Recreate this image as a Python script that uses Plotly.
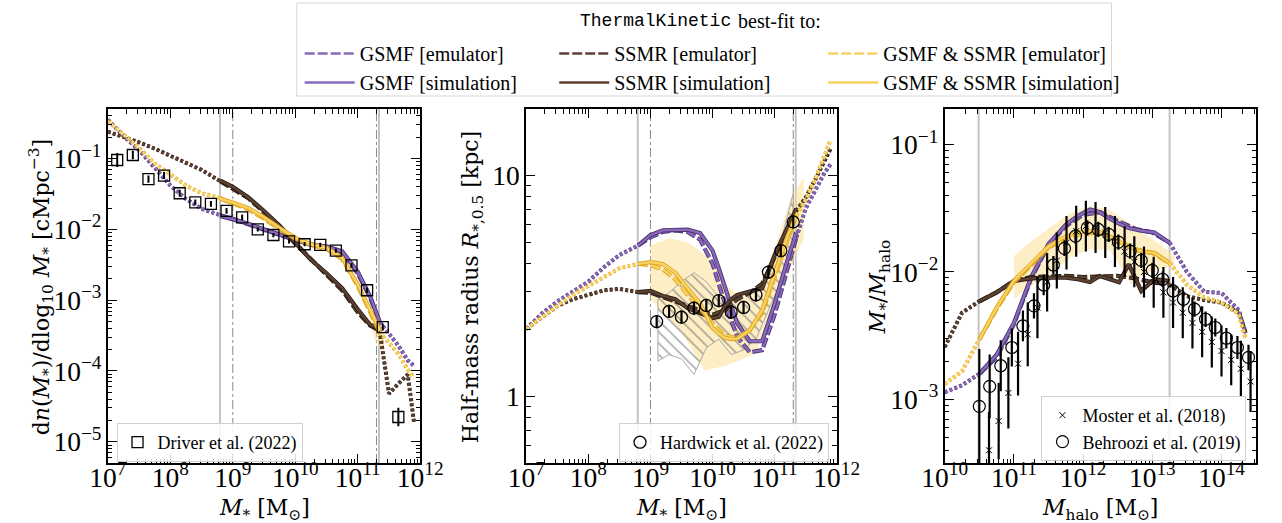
import plotly.graph_objects as go

W, H = 1282, 523
FONT = "Liberation Serif"
TFONT = "DejaVu Serif"

# ---------------- colours ----------------
PURPLE, PURPLE_EDGE = "#8a69bd", "#4a3472"
BROWN, BROWN_EDGE = "#5c4233", "#2c1d15"
GOLD, GOLD_EDGE = "#f8d262", "#e0a722"

# ---------------- panel 1 : GSMF ----------------
gsmf_x_emu = [7.0, 7.25, 7.5, 7.75, 8.0, 8.25, 8.5, 8.8, 9.0, 9.25, 9.5, 9.75, 10.0, 10.25, 10.5, 10.75, 11.0, 11.2, 11.35, 11.5, 11.65, 11.8, 11.9]
gsmf_purple_emu = [-0.45, -0.68, -0.88, -1.12, -1.38, -1.57, -1.71, -1.80, -1.85, -1.93, -2.01, -2.08, -2.15, -2.21, -2.25, -2.33, -2.62, -2.97, -3.31, -3.48, -3.64, -3.85, -3.93]
gsmf_gold_emu = [-0.47, -0.66, -0.85, -1.07, -1.23, -1.38, -1.49, -1.56, -1.63, -1.72, -1.85, -2.00, -2.13, -2.22, -2.28, -2.42, -2.80, -3.17, -3.45, -3.60, -3.76, -3.98, -4.10]
gsmf_brown_emu = [-0.62, -0.69, -0.77, -0.86, -0.96, -1.06, -1.16, -1.32, -1.42, -1.56, -1.76, -1.97, -2.20, -2.42, -2.65, -2.86, -3.17, -3.36, -3.43, -4.32, -4.18, -4.05, -4.72]
gsmf_x_sim = [8.8, 9.0, 9.25, 9.5, 9.75, 10.0, 10.25, 10.5, 10.75, 11.0, 11.2, 11.35]
gsmf_purple_sim = [-1.81, -1.86, -1.92, -2.00, -2.07, -2.14, -2.22, -2.24, -2.31, -2.60, -2.95, -3.30]
gsmf_gold_sim = [-1.57, -1.62, -1.70, -1.83, -1.98, -2.12, -2.21, -2.26, -2.40, -2.78, -3.14, -3.42]
gsmf_brown_sim = [-1.31, -1.40, -1.55, -1.74, -1.95, -2.19, -2.43, -2.62, -2.83, -3.13, -3.35, -3.40]
gsmf_band_x = [11.2, 11.3, 11.42, 11.42, 11.3, 11.2]
gsmf_band_y = [-3.1, -3.28, -3.42, -3.72, -3.62, -3.35]

driver_logm = [7.15, 7.40, 7.65, 7.90, 8.15, 8.40, 8.65, 8.90, 9.15, 9.40, 9.65, 9.90, 10.15, 10.40, 10.65, 10.90, 11.15, 11.40, 11.65]
driver_logphi = [-1.02, -0.95, -1.29, -1.24, -1.49, -1.62, -1.64, -1.74, -1.83, -2.00, -2.08, -2.17, -2.21, -2.22, -2.30, -2.51, -2.86, -3.38, -4.65]
driver_err = [0.10, 0.06, 0.05, 0.05, 0.05, 0.04, 0.04, 0.04, 0.04, 0.03, 0.03, 0.03, 0.03, 0.03, 0.03, 0.03, 0.04, 0.05, 0.13]

# ---------------- panel 2 : size-mass ----------------
ssmr_x_emu = [7.0, 7.25, 7.5, 7.75, 8.0, 8.25, 8.5, 8.8, 9.0, 9.2, 9.4, 9.6, 9.8, 10.0, 10.2, 10.4, 10.6, 10.8, 11.0, 11.2, 11.35, 11.5, 11.65, 11.8, 11.9]
ssmr_purple_emu = [0.306, 0.375, 0.43, 0.475, 0.52, 0.585, 0.64, 0.683, 0.72, 0.745, 0.752, 0.745, 0.71, 0.60, 0.42, 0.27, 0.20, 0.21, 0.37, 0.57, 0.72, 0.85, 0.93, 1.01, 1.05]
ssmr_gold_emu = [0.306, 0.36, 0.41, 0.46, 0.50, 0.54, 0.58, 0.60, 0.595, 0.575, 0.53, 0.46, 0.40, 0.33, 0.275, 0.265, 0.30, 0.38, 0.54, 0.71, 0.82, 0.89, 0.98, 1.09, 1.16]
ssmr_brown_emu = [0.306, 0.36, 0.41, 0.44, 0.46, 0.48, 0.487, 0.472, 0.47, 0.45, 0.43, 0.41, 0.39, 0.37, 0.39, 0.44, 0.47, 0.51, 0.63, 0.75, 0.84, 0.90, 0.98, 1.07, 1.12]
ssmr_x_sim = [8.8, 9.0, 9.2, 9.4, 9.6, 9.8, 10.0, 10.1, 10.2, 10.3, 10.4, 10.6, 10.8, 11.0, 11.2, 11.35]
ssmr_purple_sim = [0.683, 0.73, 0.752, 0.755, 0.755, 0.74, 0.66, 0.58, 0.49, 0.41, 0.33, 0.25, 0.25, 0.42, 0.61, 0.744]
ssmr_gold_sim = [0.60, 0.608, 0.60, 0.56, 0.49, 0.42, 0.31, 0.285, 0.265, 0.26, 0.262, 0.30, 0.39, 0.56, 0.72, 0.82]
ssmr_brown_sim = [0.472, 0.478, 0.455, 0.44, 0.40, 0.38, 0.355, 0.36, 0.41, 0.44, 0.46, 0.475, 0.49, 0.64, 0.76, 0.85]

hatch_x = [9.12, 9.3, 9.5, 9.7, 9.9, 10.1, 10.3, 10.5, 10.7, 10.9, 11.1, 11.3]
hatch_hi = [0.44, 0.47, 0.52, 0.56, 0.52, 0.45, 0.44, 0.47, 0.48, 0.57, 0.70, 0.92]
hatch_lo = [0.16, 0.19, 0.17, 0.10, 0.22, 0.26, 0.19, 0.21, 0.26, 0.39, 0.52, 0.68]
ssmr_band_x_hi = [9.0, 9.3, 9.6, 9.97, 10.23, 10.49, 10.75, 11.0, 11.26, 11.47]
ssmr_band_hi = [0.683, 0.716, 0.698, 0.623, 0.502, 0.442, 0.502, 0.668, 0.894, 0.99]
ssmr_band_x_lo = [9.0, 9.5, 9.87, 10.23, 10.69, 11.0, 11.26, 11.47]
ssmr_band_lo = [0.442, 0.291, 0.118, 0.140, 0.193, 0.412, 0.593, 0.713]

hardwick_logm = [9.1, 9.3, 9.5, 9.7, 9.9, 10.1, 10.3, 10.5, 10.7, 10.9, 11.1, 11.3]
hardwick_logr = [0.339, 0.385, 0.359, 0.40, 0.412, 0.434, 0.382, 0.403, 0.46, 0.563, 0.66, 0.79]
hardwick_err = [0.03, 0.03, 0.03, 0.03, 0.03, 0.03, 0.03, 0.03, 0.03, 0.03, 0.03, 0.03]

# ---------------- panel 3 : SHMR ----------------
shmr_x_emu = [10.0, 10.25, 10.5, 10.75, 11.0, 11.25, 11.5, 11.75, 12.0, 12.25, 12.5, 12.75, 13.0, 13.25, 13.5, 13.75, 14.0, 14.25, 14.35]
shmr_purple_emu = [-2.945, -2.89, -2.80, -2.67, -2.41, -2.05, -1.79, -1.64, -1.55, -1.53, -1.60, -1.66, -1.69, -1.77, -2.00, -2.155, -2.165, -2.30, -2.48]
shmr_gold_emu = [-2.88, -2.78, -2.53, -2.29, -2.08, -1.94, -1.81, -1.73, -1.70, -1.69, -1.75, -1.82, -1.85, -1.93, -2.10, -2.20, -2.24, -2.33, -2.53]
shmr_brown_emu = [-2.59, -2.32, -2.23, -2.16, -2.07, -2.04, -2.035, -2.03, -2.04, -2.035, -2.03, -2.05, -2.08, -2.10, -2.19, -2.22, -2.24, -2.32, -2.48]
shmr_x_sim = [10.5, 10.75, 11.0, 11.25, 11.5, 11.75, 11.92, 12.1, 12.24, 12.38, 12.52, 12.66, 12.84, 13.03, 13.25]
shmr_purple_sim = [-2.80, -2.65, -2.40, -2.04, -1.78, -1.63, -1.56, -1.51, -1.53, -1.58, -1.62, -1.655, -1.675, -1.69, -1.77]
shmr_gold_sim = [-2.53, -2.28, -2.07, -1.93, -1.80, -1.72, -1.69, -1.68, -1.69, -1.72, -1.76, -1.80, -1.84, -1.85, -1.93]
shmr_brown_sim = [-2.23, -2.16, -2.07, -2.05, -2.045, -2.045, -2.057, -2.078, -2.031, -2.057, -2.08, -1.94, -2.149, -2.057, -2.07]
shmr_band_x_hi = [11.0, 11.27, 11.55, 11.83, 12.1, 12.38, 12.66, 12.85, 13.08, 13.32]
shmr_band_hi = [-1.875, -1.75, -1.64, -1.535, -1.483, -1.509, -1.613, -1.692, -1.77, -1.875]
shmr_band_x_lo = [11.0, 11.27, 11.55, 11.83, 12.1, 12.38, 12.57, 12.7, 12.84, 13.08, 13.32]
shmr_band_lo = [-2.21, -2.10, -2.005, -1.88, -1.82, -1.83, -1.98, -2.10, -2.03, -1.98, -1.95]

moster_logm = [10.64, 10.78, 10.92, 11.06, 11.20, 11.34, 11.48, 11.62, 11.76, 11.90, 12.04, 12.18, 12.32, 12.46, 12.60, 12.74, 12.88, 13.02, 13.16, 13.30, 13.44, 13.58, 13.72, 13.86, 14.00, 14.14, 14.28, 14.42]
moster_logr = [-3.40, -3.17, -2.95, -2.72, -2.49, -2.28, -2.08, -1.91, -1.77, -1.68, -1.64, -1.65, -1.69, -1.76, -1.84, -1.92, -2.00, -2.08, -2.16, -2.24, -2.32, -2.40, -2.47, -2.55, -2.62, -2.69, -2.76, -2.86]
moster_err = [0.30, 0.30, 0.28, 0.25, 0.25, 0.24, 0.23, 0.22, 0.21, 0.20, 0.20, 0.20, 0.20, 0.20, 0.20, 0.20, 0.20, 0.20, 0.20, 0.20, 0.20, 0.20, 0.20, 0.20, 0.20, 0.20, 0.22, 0.24]
behroozi_logm = [10.50, 10.65, 10.81, 10.97, 11.13, 11.29, 11.43, 11.57, 11.73, 11.89, 12.06, 12.22, 12.37, 12.51, 12.68, 12.84, 13.00, 13.15, 13.30, 13.45, 13.61, 13.77, 13.91, 14.07, 14.23, 14.39]
behroozi_logr = [-3.055, -2.898, -2.736, -2.593, -2.423, -2.266, -2.102, -1.945, -1.815, -1.718, -1.653, -1.666, -1.705, -1.765, -1.836, -1.909, -1.987, -2.057, -2.149, -2.214, -2.292, -2.371, -2.436, -2.52, -2.593, -2.671]
behroozi_err = [0.45, 0.25, 0.20, 0.15, 0.12, 0.10, 0.08, 0.07, 0.06, 0.06, 0.06, 0.06, 0.06, 0.06, 0.06, 0.06, 0.06, 0.06, 0.06, 0.06, 0.06, 0.06, 0.07, 0.08, 0.09, 0.10]

# calibration ranges (log10) and vertical markers
mstar_solid_lines = [8.795, 11.34]
mstar_dashdot_lines = [9.0, 11.3]
mhalo_solid_lines = [10.49, 13.25]
fit_range_mstar = (8.8, 11.35)
fit_range_mhalo = (10.5, 13.25)

# axis ranges (log10)
p1_xrange, p1_yrange = [7, 12], [-5.3, -0.3]
p2_xrange, p2_yrange = [7, 12], [-0.301, 1.301]
p3_xrange, p3_yrange = [10, 14.5], [-3.5, -0.72]

DASH = "10px,3px"
DOT = "3px,2.2px"

fig = go.Figure()


def p(v):
    return [10 ** a for a in v]


def curve(xlog, ylog, color, edge, dash, xa, ya, name=None, legend=None, group=None, show=False, w=2.4, ew=4.2):
    fig.add_trace(go.Scatter(x=p(xlog), y=p(ylog), mode="lines", xaxis=xa, yaxis=ya,
                             line=dict(color=edge, width=ew, dash=dash), showlegend=False,
                             legendgroup=group, hoverinfo="skip"))
    fig.add_trace(go.Scatter(x=p(xlog), y=p(ylog), mode="lines", xaxis=xa, yaxis=ya,
                             line=dict(color=color, width=w, dash=dash), name=name,
                             showlegend=show, legend=legend, legendgroup=group))


def emu_curve(xlog, ylog, rng, color, edge, xa, ya, **kw):
    lo, hi = rng
    left = [(a, b) for a, b in zip(xlog, ylog) if a <= lo]
    mid = [(a, b) for a, b in zip(xlog, ylog) if lo <= a <= hi]
    right = [(a, b) for a, b in zip(xlog, ylog) if a >= hi]
    for seg in (left, right):
        if len(seg) > 1:
            curve([s[0] for s in seg], [s[1] for s in seg], color, edge, DOT, xa, ya, w=2.8, ew=4.0)
    curve([s[0] for s in mid], [s[1] for s in mid], color, edge, DASH, xa, ya, **kw)


def band(xhi, yhi, xlo, ylo, xa, ya):
    xs = list(xhi) + list(reversed(xlo))
    ys = list(yhi) + list(reversed(ylo))
    fig.add_trace(go.Scatter(x=p(xs), y=p(ys), fill="toself", mode="lines", xaxis=xa, yaxis=ya,
                             fillcolor="rgba(252,222,140,0.5)", line=dict(width=0),
                             showlegend=False, hoverinfo="skip"))


def errs(vals, err):
    up = [10 ** (v + e) - 10 ** v for v, e in zip(vals, err)]
    dn = [10 ** v - 10 ** (v - e) for v, e in zip(vals, err)]
    return up, dn


# ---- bands / hatch ----
band(gsmf_band_x[:3], gsmf_band_y[:3], list(reversed(gsmf_band_x[3:])), list(reversed(gsmf_band_y[3:])), "x", "y")
band(ssmr_band_x_hi, ssmr_band_hi, ssmr_band_x_lo, ssmr_band_lo, "x2", "y2")
hx = hatch_x + list(reversed(hatch_x)) + [hatch_x[0]]
hy = hatch_hi + list(reversed(hatch_lo)) + [hatch_hi[0]]
fig.add_trace(go.Scatter(x=p(hx), y=p(hy), fill="toself", mode="lines", xaxis="x2", yaxis="y2",
                         fillcolor="rgba(255,255,255,0)",
                         fillpattern=dict(shape="\\", fgcolor="#5a5a5a", bgcolor="rgba(255,255,255,0)",
                                          size=8, solidity=0.2, fillmode="overlay"),
                         line=dict(color="#a8a8a8", width=1), showlegend=False, hoverinfo="skip"))
band(shmr_band_x_hi, shmr_band_hi, shmr_band_x_lo, shmr_band_lo, "x3", "y3")

# ---- model curves ----
series = [
    ("GSMF", PURPLE, PURPLE_EDGE, "legend", gsmf_purple_emu, gsmf_purple_sim, ssmr_purple_emu, ssmr_purple_sim, shmr_purple_emu, shmr_purple_sim),
    ("SSMR", BROWN, BROWN_EDGE, "legend2", gsmf_brown_emu, gsmf_brown_sim, ssmr_brown_emu, ssmr_brown_sim, shmr_brown_emu, shmr_brown_sim),
    ("GSMF &amp; SSMR", GOLD, GOLD_EDGE, "legend3", gsmf_gold_emu, gsmf_gold_sim, ssmr_gold_emu, ssmr_gold_sim, shmr_gold_emu, shmr_gold_sim),
]
for name, col, edge, leg, g_e, g_s, s_e, s_s, h_e, h_s in series:
    emu_curve(gsmf_x_emu, g_e, fit_range_mstar, col, edge, "x", "y",
              name=f"{name} [emulator]", legend=leg, group=name + "e", show=True)
    curve(gsmf_x_sim, g_s, col, edge, "solid", "x", "y",
          name=f"{name} [simulation]", legend=leg, group=name + "s", show=True)
    emu_curve(ssmr_x_emu, s_e, fit_range_mstar, col, edge, "x2", "y2")
    curve(ssmr_x_sim, s_s, col, edge, "solid", "x2", "y2")
    emu_curve(shmr_x_emu, h_e, fit_range_mhalo, col, edge, "x3", "y3")
    curve(shmr_x_sim, h_s, col, edge, "solid", "x3", "y3")

# ---- observations ----
up, dn = errs(driver_logphi, driver_err)
fig.add_trace(go.Scatter(x=p(driver_logm), y=p(driver_logphi), mode="markers", xaxis="x", yaxis="y",
                         marker=dict(symbol="square-open", size=11, color="black", line=dict(width=1.3)),
                         error_y=dict(type="data", array=up, arrayminus=dn, color="black", thickness=2, width=0),
                         name="Driver et al. (2022)", legend="legend4"))
up, dn = errs(hardwick_logr, hardwick_err)
fig.add_trace(go.Scatter(x=p(hardwick_logm), y=p(hardwick_logr), mode="markers", xaxis="x2", yaxis="y2",
                         marker=dict(symbol="circle-open", size=12, color="black", line=dict(width=1.3)),
                         error_y=dict(type="data", array=up, arrayminus=dn, color="black", thickness=2.2, width=0),
                         name="Hardwick et al. (2022)", legend="legend5"))
up, dn = errs(moster_logr, moster_err)
fig.add_trace(go.Scatter(x=p(moster_logm), y=p(moster_logr), mode="markers", xaxis="x3", yaxis="y3",
                         marker=dict(symbol="x-thin", size=6, color="black", line=dict(width=1, color="black")),
                         error_y=dict(type="data", array=up, arrayminus=dn, color="black", thickness=2.2, width=0),
                         name="Moster et al. (2018)", legend="legend6"))
up, dn = errs(behroozi_logr, behroozi_err)
fig.add_trace(go.Scatter(x=p(behroozi_logm), y=p(behroozi_logr), mode="markers", xaxis="x3", yaxis="y3",
                         marker=dict(symbol="circle-open", size=12, color="black", line=dict(width=1.2)),
                         error_y=dict(type="data", array=up, arrayminus=dn, color="black", thickness=2.2, width=0),
                         name="Behroozi et al. (2019)", legend="legend6"))

# ---- vertical markers ----
shapes = []
for xr, yr, sol, dd in (("x", "y domain", mstar_solid_lines, mstar_dashdot_lines),
                        ("x2", "y2 domain", mstar_solid_lines, mstar_dashdot_lines),
                        ("x3", "y3 domain", mhalo_solid_lines, [])):
    for v in sol:
        shapes.append(dict(type="line", xref=xr, yref=yr, x0=10 ** v, x1=10 ** v, y0=0, y1=1,
                           line=dict(color="#c4c4c4", width=2), layer="below"))
    for v in dd:
        shapes.append(dict(type="line", xref=xr, yref=yr, x0=10 ** v, x1=10 ** v, y0=0, y1=1,
                           line=dict(color="#8a8a8a", width=1, dash="dashdot"), layer="below"))
# main legend frame
shapes.append(dict(type="rect", xref="paper", yref="paper", x0=284 / W, x1=1129 / W, y0=1 - 96 / H, y1=1 - 3 / H,
                   line=dict(color="#d6d6d6", width=1), fillcolor="white", layer="below"))


def xpix(px):
    return px / W


def ypix(py):
    return 1 - py / H


tickfont = dict(family=FONT, size=22, color="black")
titlefont = dict(family=TFONT, size=22, color="black")


def ax(domain, rng, anchor, is_x):
    d = dict(type="log", domain=domain, range=rng, anchor=anchor,
             showline=True, linecolor="black", linewidth=2, mirror="allticks",
             ticks="inside", ticklen=9, tickwidth=1.4, tickcolor="black",
             showgrid=False, zeroline=False, dtick=1, exponentformat="power",
             tickfont=tickfont,
             minor=dict(ticks="inside", ticklen=4.5, tickwidth=1, tickcolor="black", dtick="D1", showgrid=False))
    if is_x:
        d["ticklabelstandoff"] = -10
    return d


ydom = [ypix(463), ypix(109)]
fig.update_layout(
    width=W, height=H, margin=dict(l=0, r=0, t=0, b=0),
    plot_bgcolor="white", paper_bgcolor="white",
    font=dict(family=FONT, color="black"),
    xaxis=ax([xpix(88), xpix(412)], p1_xrange, "y", True),
    yaxis=ax(ydom, p1_yrange, "x", False),
    xaxis2=ax([xpix(522), xpix(844)], p2_xrange, "y2", True),
    yaxis2=ax(ydom, p2_yrange, "x2", False),
    xaxis3=ax([xpix(956), xpix(1279)], p3_xrange, "y3", True),
    yaxis3=ax(ydom, p3_yrange, "x3", False),
    shapes=shapes,
    showlegend=True,
)

# axis titles
Mstar = "<i>M</i><sub>*</sub> [M<sub>⊙</sub>]"
axis_titles = [
    (250, 509, 0, Mstar),
    (683, 509, 0, Mstar),
    (1117, 509, 0, "<i>M</i><sub>halo</sub> [M<sub>⊙</sub>]"),
    (19, 287, -90, "d<i>n</i>(<i>M</i><sub>*</sub>)/dlog<sub>10</sub> <i>M</i><sub>*</sub> [cMpc<sup>−3</sup>]"),
    (466, 287, -90, "Half-mass radius <i>R</i><sub>*,0.5</sub> [kpc]"),
    (888, 287, -90, "<i>M</i><sub>*</sub>/<i>M</i><sub>halo</sub>"),
]
for x, y, ang, txt in axis_titles:
    fig.add_annotation(x=xpix(x), y=ypix(y), xref="paper", yref="paper", xanchor="center", yanchor="middle",
                       text=txt, textangle=ang, showarrow=False, font=titlefont)

top_leg = dict(yanchor="top", xanchor="left", bgcolor="rgba(0,0,0,0)", borderwidth=0,
               font=dict(family=FONT, size=20, color="black"), itemwidth=50,
               traceorder="normal", tracegroupgap=5, orientation="v")
box_leg = dict(yanchor="top", bgcolor="rgba(255,255,255,0.85)", bordercolor="#d0d0d0", borderwidth=1,
               font=dict(family=FONT, size=18, color="black"))
fig.update_layout(
    legend=dict(x=xpix(287), y=ypix(34), **top_leg),
    legend2=dict(x=xpix(551), y=ypix(34), **top_leg),
    legend3=dict(x=xpix(830), y=ypix(34), **top_leg),
    legend4=dict(x=xpix(97), y=ypix(423), xanchor="left", **box_leg),
    legend5=dict(x=xpix(836), y=ypix(423), xanchor="right", **box_leg),
    legend6=dict(x=xpix(1269), y=ypix(396), xanchor="right", **box_leg),
)

fig.add_annotation(x=xpix(736), y=ypix(21), xref="paper", yref="paper", xanchor="right", yanchor="middle",
                   text="ThermalKinetic", showarrow=False, font=dict(family="Liberation Mono", size=18, color="black"))
fig.add_annotation(x=xpix(740), y=ypix(21), xref="paper", yref="paper", xanchor="left", yanchor="middle",
                   text="best-fit to:", showarrow=False, font=dict(family=FONT, size=20, color="black"))

fig.write_html("out.html")
